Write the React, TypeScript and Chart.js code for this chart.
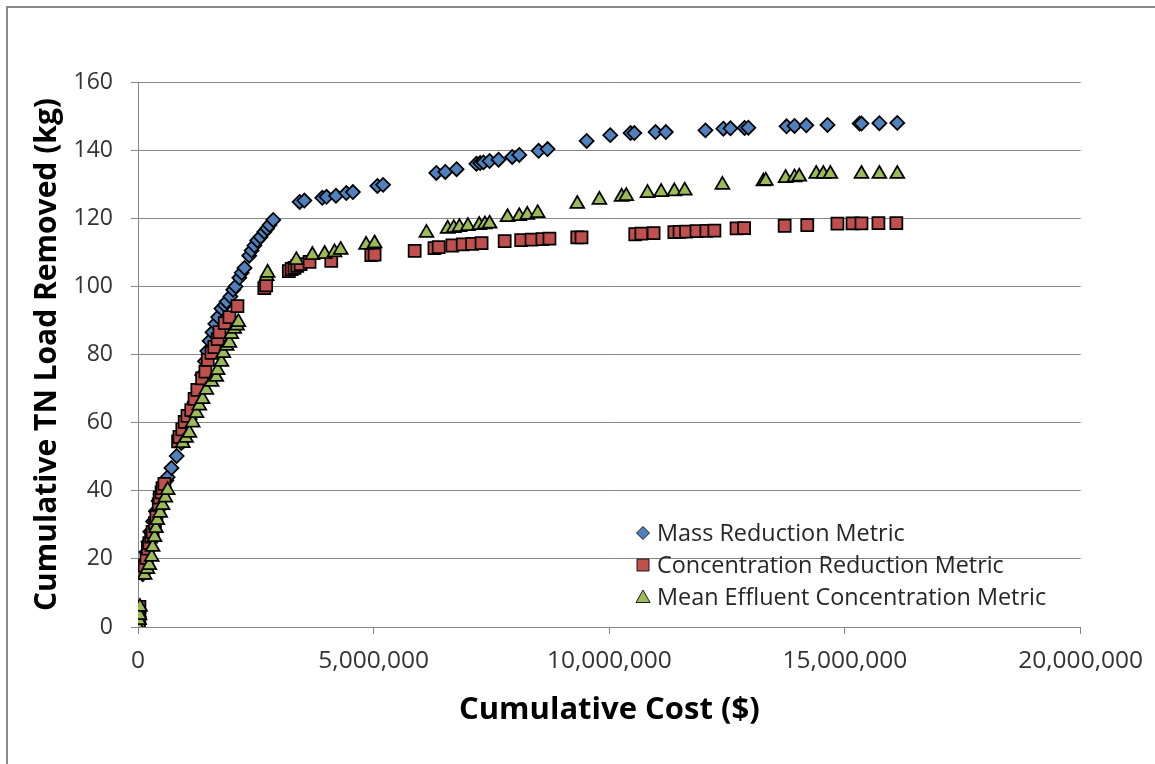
import React, { useEffect, useRef } from 'react';
import { Chart, registerables } from 'chart.js';

Chart.register(...registerables);

// Cumulative cost in millions of dollars, cumulative TN load removed in kg
const massCostM = [
  0.0, 0.01, 0.02, 0.03, 0.1, 0.12, 0.14, 0.18, 0.22, 0.26, 0.32, 0.38, 0.44, 0.48, 0.54, 0.6, 0.63, 0.71, 0.82, 0.92,
  1.0, 1.1, 1.2, 1.28, 1.36, 1.42, 1.47, 1.52, 1.58, 1.64, 1.7, 1.77, 1.84, 1.88, 1.96, 2.02, 2.07, 2.15, 2.2, 2.26,
  2.36, 2.41, 2.47, 2.53, 2.6, 2.68, 2.74, 2.79, 2.87, 3.43, 3.53, 3.91, 4.0, 4.2, 4.42, 4.56, 5.08, 5.2, 6.33, 6.52,
  6.76, 7.18, 7.26, 7.33, 7.46, 7.65, 7.94, 8.09, 8.5, 8.69, 9.52, 10.02, 10.45, 10.53, 10.98, 11.2, 12.04, 12.42, 12.57, 12.87,
  12.95, 13.76, 13.93, 14.18, 14.63, 15.31, 15.35, 15.73, 16.11,
];
const massLoad = [
  0, 1, 3, 5, 15.5, 17, 19, 22, 25, 28, 31, 34, 37, 39, 41, 43, 44, 46.7, 50.2, 54,
  57, 61, 66, 70, 74, 78, 81, 84, 86.5, 89, 91, 93.5, 94.5, 95.5, 97, 99, 100, 102.5, 104, 105.4,
  109, 110.5, 112, 113.5, 114.5, 116, 117, 118, 119.5, 124.8, 125.2, 126, 126.3, 126.6, 127.4, 127.7, 129.5, 129.8, 133.3, 133.6,
  134.4, 136.0, 136.2, 136.4, 136.8, 137.2, 138.0, 138.6, 139.8, 140.3, 142.7, 144.4, 145.0, 145.0, 145.3, 145.3, 145.8, 146.3, 146.4, 146.5,
  146.6, 147.0, 147.1, 147.3, 147.4, 147.8, 147.8, 147.9, 148.0,
];

const concCostM = [
  0.0, 0.02, 0.03, 0.03, 0.1, 0.14, 0.18, 0.21, 0.24, 0.28, 0.31, 0.36, 0.39, 0.44, 0.46, 0.5, 0.52, 0.56, 0.85, 0.88,
  0.94, 0.99, 1.05, 1.13, 1.2, 1.26, 1.36, 1.43, 1.48, 1.56, 1.62, 1.69, 1.73, 1.84, 1.94, 2.11, 2.68, 2.72, 3.2, 3.26,
  3.32, 3.38, 3.45, 3.64, 4.1, 4.95, 5.02, 5.87, 6.29, 6.38, 6.67, 6.89, 7.09, 7.29, 7.78, 8.13, 8.35, 8.58, 8.73, 9.32,
  9.41, 10.55, 10.68, 10.94, 11.38, 11.49, 11.63, 11.85, 12.06, 12.23, 12.7, 12.86, 13.72, 14.2, 14.84, 15.16, 15.35, 15.71, 16.09,
];
const concLoad = [
  0, 1, 3, 5.9, 15.9, 18, 20.3, 23, 24.6, 26.5, 27.9, 30.5, 32.3, 36, 38, 39.5, 40.8, 42, 54.5, 55.8,
  58, 60.2, 62, 63.7, 67, 69.6, 73, 75, 78.4, 80.5, 82.2, 84.5, 86.6, 89.2, 91, 94.2, 99.5, 100.3, 104.5, 105.1,
  105.4, 106, 106.5, 107.2, 107.5, 109.2, 109.3, 110.4, 111.2, 111.5, 112, 112.3, 112.5, 112.7, 113.3, 113.6, 113.7, 113.9, 114, 114.4,
  114.4, 115.3, 115.5, 115.6, 115.9, 116, 116.1, 116.2, 116.3, 116.4, 117, 117.1, 117.8, 118, 118.4, 118.5, 118.5, 118.6, 118.6,
];

const effCostM = [
  0.0, 0.02, 0.03, 0.04, 0.14, 0.2, 0.24, 0.29, 0.31, 0.35, 0.38, 0.41, 0.47, 0.52, 0.58, 0.63, 0.95, 1.02, 1.09, 1.16,
  1.24, 1.3, 1.37, 1.45, 1.56, 1.66, 1.69, 1.77, 1.81, 1.88, 1.94, 1.98, 2.04, 2.1, 2.13, 2.73, 2.75, 3.36, 3.7, 3.96,
  4.17, 4.3, 4.84, 5.02, 6.12, 6.57, 6.7, 6.82, 7.0, 7.24, 7.36, 7.46, 7.84, 8.09, 8.26, 8.48, 9.32, 9.79, 10.26, 10.36,
  10.81, 11.1, 11.38, 11.6, 12.4, 13.27, 13.32, 13.74, 13.93, 14.03, 14.39, 14.54, 14.69, 15.35, 15.73, 16.11,
];
const effLoad = [
  0, 2, 3.5, 5.9, 15.3, 17, 18.2, 20.6, 23.5, 26.4, 29, 31.4, 33.5, 35.8, 38, 40.2, 54, 55.5, 57, 60,
  62.8, 65, 66.9, 69.6, 72, 73.4, 75.4, 77.8, 80.4, 82.5, 83.4, 86, 87.5, 88.5, 89.5, 103, 104, 107.7, 109.2, 109.5,
  110, 110.7, 112.2, 112.6, 115.7, 116.9, 117.1, 117.4, 117.7, 118, 118.2, 118.4, 120.3, 120.6, 121, 121.5, 124.2, 125.4, 126.3, 126.5,
  127.4, 127.7, 127.9, 128.1, 129.8, 130.8, 131, 131.8, 132, 132.2, 133, 133, 133, 133, 133, 133,
];

const seriesLabels = ['Mass Reduction Metric', 'Concentration Reduction Metric', 'Mean Effluent Concentration Metric'];
const xTickValues = [0, 5000000, 10000000, 15000000, 20000000];
const yTickValues = [0, 20, 40, 60, 80, 100, 120, 140, 160];

const toPoints = (xs: number[], ys: number[]) => xs.map((x, i) => ({ x: x * 1000000, y: ys[i] }));

const GRID = '#868686';
const FONT = '"Open Sans", "DejaVu Sans", sans-serif';

const frame = {
  id: 'frame',
  beforeDraw(chart: any) {
    const { ctx, width, height } = chart;
    ctx.save();
    ctx.fillStyle = '#ffffff';
    ctx.fillRect(0, 0, width, height);
    ctx.strokeStyle = '#8a8a8a';
    ctx.lineWidth = 2;
    ctx.strokeRect(7, 7, width + 20, height + 20);
    ctx.restore();
  },
};

const insideLegend = {
  id: 'insideLegend',
  afterDraw(chart: any) {
    const { ctx } = chart;
    const rows = [533, 565, 597];
    const mx = 643;
    ctx.save();
    ctx.font = `23.4px ${FONT}`;
    ctx.textBaseline = 'middle';
    ctx.textAlign = 'left';
    chart.data.datasets.forEach((ds: any, i: number) => {
      const y = rows[i];
      ctx.beginPath();
      if (ds.pointStyle === 'rectRot') {
        ctx.moveTo(mx - 6.5, y);
        ctx.lineTo(mx, y - 6.5);
        ctx.lineTo(mx + 6.5, y);
        ctx.lineTo(mx, y + 6.5);
      } else if (ds.pointStyle === 'rect') {
        ctx.rect(mx - 6, y - 6, 12, 12);
      } else {
        ctx.moveTo(mx, y - 7);
        ctx.lineTo(mx + 7, y + 5.5);
        ctx.lineTo(mx - 7, y + 5.5);
      }
      ctx.closePath();
      ctx.fillStyle = ds.backgroundColor;
      ctx.fill();
      ctx.strokeStyle = '#1a1a1a';
      ctx.lineWidth = 1;
      ctx.stroke();
      ctx.fillStyle = '#262626';
      ctx.fillText(ds.label, 657, y + 1);
    });
    ctx.restore();
  },
};

export default function App() {
  const ref = useRef<HTMLCanvasElement>(null);

  useEffect(() => {
    if (!ref.current) return;
    const chart = new Chart(ref.current, {
      type: 'scatter',
      data: {
        datasets: [
          {
            label: seriesLabels[0],
            data: toPoints(massCostM, massLoad),
            pointStyle: 'rectRot',
            pointRadius: 7,
            backgroundColor: '#4F81BD',
            borderColor: '#000000',
            borderWidth: 1.75,
            order: 3,
          },
          {
            label: seriesLabels[1],
            data: toPoints(concCostM, concLoad),
            pointStyle: 'rect',
            pointRadius: 8.5,
            backgroundColor: '#C0504D',
            borderColor: '#000000',
            borderWidth: 1.75,
            order: 2,
          },
          {
            label: seriesLabels[2],
            data: toPoints(effCostM, effLoad),
            pointStyle: 'triangle',
            pointRadius: 8,
            backgroundColor: '#9BBB59',
            borderColor: '#000000',
            borderWidth: 1.75,
            order: 1,
          },
        ] as any,
      },
      options: {
        animation: false,
        responsive: false,
        events: [],
        layout: { padding: { left: 29, top: 82, right: 74, bottom: 0 } },
        plugins: {
          legend: { display: false },
          tooltip: { enabled: false },
        },
        scales: {
          x: {
            type: 'linear',
            min: 0,
            max: 20000000,
            afterFit: (s: any) => {
              s.height = 137;
            },
            afterBuildTicks: (s: any) => {
              s.ticks = xTickValues.map((v) => ({ value: v }));
            },
            ticks: {
              color: '#333333',
              font: { family: FONT, size: 24.5 },
              padding: 12,
              maxRotation: 0,
              autoSkip: false,
              callback: (v: any) => Number(v).toLocaleString('en-US'),
            },
            grid: { drawOnChartArea: false, drawTicks: true, tickLength: 7, color: GRID },
            border: { display: true, color: GRID },
            title: {
              display: true,
              text: 'Cumulative Cost ($)',
              color: '#000000',
              font: { family: FONT, size: 31, weight: 'bold' },
              padding: { top: 0, bottom: 35 },
            },
          },
          y: {
            type: 'linear',
            min: 0,
            max: 160,
            afterFit: (s: any) => {
              s.width = 109;
            },
            afterBuildTicks: (s: any) => {
              s.ticks = yTickValues.map((v) => ({ value: v }));
            },
            ticks: {
              color: '#333333',
              font: { family: FONT, size: 23 },
              padding: 18,
            },
            grid: { color: GRID, tickLength: 7 },
            border: { display: true, color: GRID },
            title: {
              display: true,
              text: 'Cumulative TN Load Removed (kg)',
              color: '#000000',
              font: { family: FONT, size: 30, weight: 'bold' },
              padding: { top: 0, bottom: 0 },
            },
          },
        },
      } as any,
      plugins: [frame, insideLegend],
    });
    return () => chart.destroy();
  }, []);

  return (
    <div style={{ position: 'absolute', left: 0, top: 0, width: 1155, height: 764 }}>
      <canvas ref={ref} width={1155} height={764} style={{ width: 1155, height: 764, display: 'block' }} />
    </div>
  );
}
